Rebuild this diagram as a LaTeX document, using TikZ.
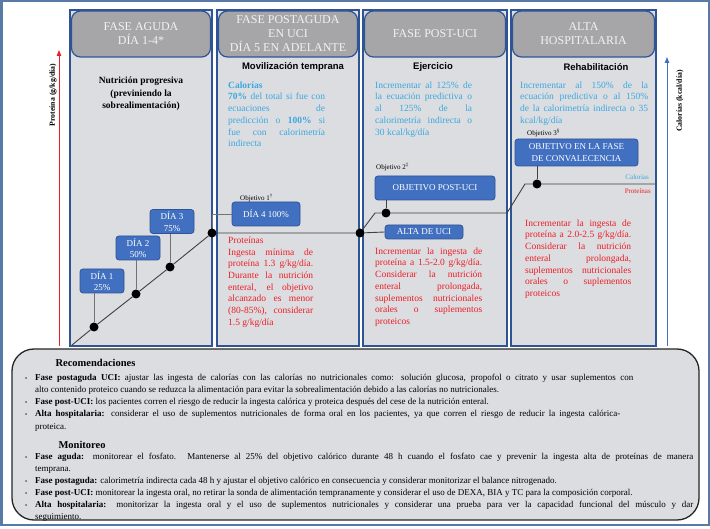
\documentclass[tikz,border=0pt]{standalone}
\usepackage{fontspec}
\setmainfont{Liberation Serif}
\setsansfont{Liberation Sans}
\usetikzlibrary{arrows.meta}

\definecolor{marco}{RGB}{88,122,166}
\definecolor{azulcol}{RGB}{46,84,150}
\definecolor{azulcaja}{RGB}{66,112,192}
\definecolor{grisenc}{RGB}{166,166,169}
\definecolor{grisfondo}{RGB}{220,221,225}
\definecolor{cian}{RGB}{58,168,224}
\definecolor{rojo}{RGB}{236,30,38}

% linea justificada de ancho fijo
\newcommand{\jst}[2]{\makebox[#1][s]{#2}}
\newcommand{\blt}{\makebox[10pt][l]{\fontsize{6}{6}\selectfont\textbullet}}
\newcommand{\sangria}{\hspace*{10pt}}

\begin{document}
\begin{tikzpicture}[x=1pt, y=-1pt,
  columna/.style={draw=azulcol, line width=2pt, fill=grisfondo, inner sep=0pt},
  encab/.style={draw=azulcol, line width=1.2pt, fill=grisenc, rounded corners=9pt,
                align=center, text=white!95!black, inner sep=0pt,
                font=\fontsize{12}{14}\selectfont},
  sub/.style={font=\sffamily\bfseries\fontsize{9.5}{11}\selectfont},
  cal/.style={anchor=north west, inner sep=0pt, align=left, text=cian,
              font=\fontsize{9.5}{11.7}\selectfont},
  prot/.style={cal, text=rojo},
  caja/.style={draw=azulcol, line width=0.8pt, fill=azulcaja, rounded corners=3pt,
               text=white, align=center, inner sep=0pt,
               font=\fontsize{9}{11.5}\selectfont},
  punto/.style={circle, fill=black, inner sep=0pt, minimum size=9pt},
  curva/.style={black!75, line width=0.9pt},
  enlace/.style={black!55, line width=0.9pt},
  obj/.style={font=\fontsize{7}{8}\selectfont, inner sep=0pt},
  eje/.style={line width=1pt, -{Triangle[length=6pt,width=4.5pt]}},
  lista/.style={anchor=north west, inner sep=0pt, align=left}
]
  \useasboundingbox (0,0) rectangle (710,529);
  \draw[marco, line width=2.5pt] (1.25,1.25) rectangle (708.75,525);

  % Columnas
  \node[columna, minimum width=142pt, minimum height=336pt] (col1) at (141,178) {};
  \node[columna, minimum width=142pt, minimum height=336pt] (col2) at (288,178) {};
  \node[columna, minimum width=144pt, minimum height=336pt] (col3) at (435,178) {};
  \node[columna, minimum width=145pt, minimum height=336pt] (col4) at (583.5,178) {};

  \node[encab, minimum width=139pt, minimum height=46pt] (enc1) at (141,34) {FASE AGUDA\\DÍA 1-4*};
  \node[encab, minimum width=139pt, minimum height=46pt] (enc2) at (288,34) {FASE POSTAGUDA\\EN UCI\\DÍA 5 EN ADELANTE};
  \node[encab, minimum width=141pt, minimum height=46pt] (enc3) at (435,34) {FASE POST-UCI};
  \node[encab, minimum width=142pt, minimum height=46pt] (enc4) at (583.5,34) {ALTA\\HOSPITALARIA};

  \node[align=center, font=\bfseries\fontsize{9.5}{12.5}\selectfont] (sub1) at (141,94)
    {Nutrición progresiva\\(previniendo la\\sobrealimentación)};
  \node[sub] (sub2) at (293,67) {Movilización temprana};
  \node[sub] (sub3) at (433,67) {Ejercicio};
  \node[sub] (sub4) at (596,67) {Rehabilitación};

  % Calorias
  \node[cal] (cal2) at (228,81.5) {%
    \textbf{Calorías}\\
    \jst{97pt}{\textbf{70\%} del total si fue con}\\
    \jst{97pt}{ecuaciones de}\\
    \jst{97pt}{predicción o \textbf{100\%} si}\\
    \jst{97pt}{fue con calorimetría}\\
    indirecta};
  \node[cal] (cal3) at (375,81.5) {%
    \jst{97pt}{Incrementar al 125\% de}\\
    \jst{97pt}{la ecuación predictiva o}\\
    \jst{97pt}{al 125\% de la}\\
    \jst{97pt}{calorimetría indirecta o}\\
    30 kcal/kg/día};
  \node[cal] (cal4) at (520,81.5) {%
    \jst{128pt}{Incrementar al 150\% de la}\\
    \jst{128pt}{ecuación predictiva o al 150\%}\\
    \jst{128pt}{de la calorimetría indirecta o 35}\\
    kcal/kg/día};

  % Proteinas
  \node[prot] (prot2) at (228,236.5) {%
    Proteínas\\
    \jst{85pt}{Ingesta mínima de}\\
    \jst{85pt}{proteína 1.3 g/kg/día.}\\
    \jst{85pt}{Durante la nutrición}\\
    \jst{85pt}{enteral, el objetivo}\\
    \jst{85pt}{alcanzado es menor}\\
    \jst{85pt}{(80-85\%), considerar}\\
    1.5 g/kg/día};
  \node[prot] (prot3) at (375,247.5) {%
    \jst{107pt}{Incrementar la ingesta de}\\
    \jst{107pt}{proteína a 1.5-2.0 g/kg/día.}\\
    \jst{107pt}{Considerar la nutrición}\\
    \jst{107pt}{enteral prolongada,}\\
    \jst{107pt}{suplementos nutricionales}\\
    \jst{107pt}{orales o suplementos}\\
    proteicos};
  \node[prot] (prot4) at (525,219.5) {%
    \jst{106pt}{Incrementar la ingesta de}\\
    \jst{106pt}{proteína a 2.0-2.5 g/kg/día.}\\
    \jst{106pt}{Considerar la nutrición}\\
    \jst{106pt}{enteral prolongada,}\\
    \jst{106pt}{suplementos nutricionales}\\
    \jst{106pt}{orales o suplementos}\\
    proteicos};

  % Ejes
  \coordinate (p0) at (59,346);
  \coordinate (p1) at (59,50);
  \coordinate (c0) at (667,346);
  \coordinate (c1) at (667,57);
  \draw[eje, rojo] (p0) -- (p1);
  \draw[eje, azulcaja] (c0) -- (c1);
  \node[rotate=90, font=\bfseries\fontsize{7.8}{9}\selectfont] (lprot) at (53,95) {Proteína (g/kg/día)};
  \node[rotate=90, font=\bfseries\fontsize{7.8}{9}\selectfont] (lcal) at (680,101) {Calorías (kcal/día)};

  % Curva de progresion
  \coordinate (g0) at (72,345);
  \node[punto] (d1) at (94,327) {};
  \node[punto] (d2) at (136,294) {};
  \node[punto] (d3) at (170,267) {};
  \node[punto] (e4) at (212,233) {};
  \node[punto] (f5) at (360,233) {};
  \coordinate (b1) at (375,213);
  \node[punto] (g6) at (386,213) {};
  \coordinate (b2) at (507,213);
  \coordinate (b3) at (525,184);
  \node[punto] (h7) at (537,184) {};
  \coordinate (g9) at (655,184);
  \draw[curva] (g0) -- (d1) -- (d2) -- (d3) -- (e4) -- (f5) -- (b1) -- (g6) -- (b2) -- (b3) -- (h7) -- (g9);

  % Cajas
  \node[caja, minimum width=44pt, minimum height=24pt] (dia1) at (102,281) {DÍA 1\\25\%};
  \node[caja, minimum width=44pt, minimum height=24pt] (dia2) at (138,248) {DÍA 2\\50\%};
  \node[caja, minimum width=44pt, minimum height=24pt] (dia3) at (172,221.5) {DÍA 3\\75\%};
  \node[caja, minimum width=68pt, minimum height=24pt] (dia4) at (266,214) {DÍA 4 100\%};
  \node[caja, minimum width=120pt, minimum height=24pt] (postuci) at (435,188) {OBJETIVO POST-UCI};
  \node[caja, minimum width=78pt, minimum height=14pt] (altauci) at (424,232) {ALTA DE UCI};
  \node[caja, minimum width=123pt, minimum height=27pt] (conv) at (576.5,152.5)
    {OBJETIVO EN LA FASE\\DE CONVALECENCIA};

  \draw[enlace] (d1) -- (d1 |- dia1.south);
  \draw[enlace] (d2) -- (d2 |- dia2.south);
  \draw[enlace] (d3) -- (d3 |- dia3.south);
  \draw[enlace] (dia4.west) -| (e4);
  \draw[curva] (f5) -- (altauci.west);
  \draw[curva] (postuci.south -| g6) -- (g6);
  \draw[curva] (conv.south -| h7) -- (h7);

  \node[obj, anchor=west] (obj1) at (240,198) {Objetivo 1\textsuperscript{\dag}};
  \node[obj, anchor=west] (obj2) at (376,167) {Objetivo 2\textsuperscript{\ddag}};
  \node[obj, anchor=west] (obj3) at (527,133) {Objetivo 3\textsuperscript{\S}};
  \node[obj, anchor=east, text=cian] (tcal) at (649,177) {Calorías};
  \node[obj, anchor=east, text=rojo] (tprot) at (651,191) {Proteínas};

  % Recuadro inferior
  \node[draw=black!85, line width=1.3pt, fill=grisfondo, rounded corners=22pt,
        minimum width=687pt, minimum height=171pt] (recuadro) at (355.5,434.5) {};
  \node[anchor=west, font=\bfseries\fontsize{10.5}{12}\selectfont] (trec) at (52,363) {Recomendaciones};
  \node[lista, font=\fontsize{9}{12.2}\selectfont] (lrec) at (25,373.7) {%
    \blt\jst{598pt}{\textbf{Fase postaguda UCI:} ajustar las ingesta de calorías con las calorías no nutricionales como: solución glucosa, propofol o citrato y usar suplementos con}\\
    \sangria alto contenido proteico cuando se reduzca la alimentación para evitar la sobrealimentación debido a las calorías no nutricionales.\\
    \blt\textbf{Fase post-UCI:} los pacientes corren el riesgo de reducir la ingesta calórica y proteica después del cese de la nutrición enteral.\\
    \blt\jst{585pt}{\textbf{Alta hospitalaria:} considerar el uso de suplementos nutricionales de forma oral en los pacientes, ya que corren el riesgo de reducir la ingesta calórica-}\\
    \sangria proteica.};
  \node[anchor=west, font=\bfseries\fontsize{10.5}{12}\selectfont] (tmon) at (55,445) {Monitoreo};
  \node[lista, font=\fontsize{9}{12}\selectfont] (lmon) at (25,452.7) {%
    \blt\jst{658pt}{\textbf{Fase aguda:} monitorear el fosfato. Mantenerse al 25\% del objetivo calórico durante 48 h cuando el fosfato cae y prevenir la ingesta alta de proteínas de manera}\\
    \sangria temprana.\\
    \blt\textbf{Fase postaguda:} calorimetría indirecta cada 48 h y ajustar el objetivo calórico en consecuencia y considerar monitorizar el balance nitrogenado.\\
    \blt\textbf{Fase post-UCI:} monitorear la ingesta oral, no retirar la sonda de alimentación tempranamente y considerar el uso de DEXA, BIA y TC para la composición corporal.\\
    \blt\jst{658pt}{\textbf{Alta hospitalaria:} monitorizar la ingesta oral y el uso de suplementos nutricionales y considerar una prueba para ver la capacidad funcional del músculo y dar}\\
    \sangria seguimiento.};
\end{tikzpicture}
\end{document}
